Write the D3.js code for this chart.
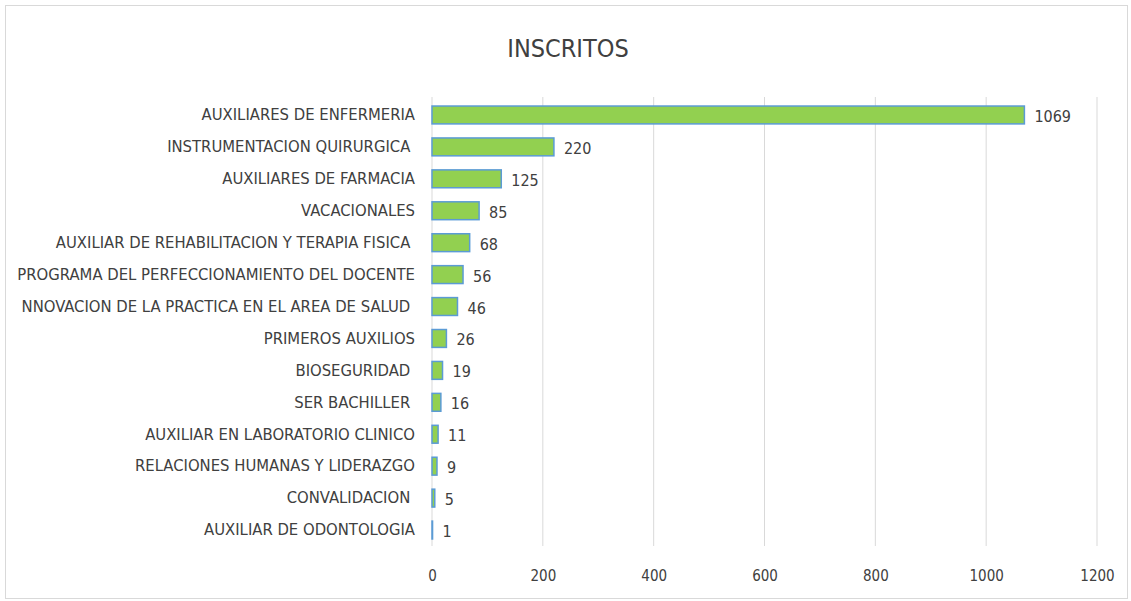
<!DOCTYPE html>
<html>
<head>
<meta charset="utf-8">
<script src="https://cdn.jsdelivr.net/npm/d3@7"></script>
<style>
  body { margin: 0; background: #fff; }
  text { font-family: "DejaVu Sans Condensed", "Liberation Sans Narrow", sans-serif; fill: #404040; }
</style>
</head>
<body>
<svg id="chart" width="1131" height="601"></svg>
<script>
// Data
const categories = [
  'AUXILIARES DE ENFERMERIA',
  'INSTRUMENTACION QUIRURGICA ',
  'AUXILIARES DE FARMACIA',
  'VACACIONALES',
  'AUXILIAR DE REHABILITACION Y TERAPIA FISICA ',
  'PROGRAMA DEL PERFECCIONAMIENTO DEL DOCENTE',
  'NNOVACION DE LA PRACTICA EN EL AREA DE SALUD ',
  'PRIMEROS AUXILIOS',
  'BIOSEGURIDAD ',
  'SER BACHILLER ',
  'AUXILIAR EN LABORATORIO CLINICO',
  'RELACIONES HUMANAS Y LIDERAZGO',
  'CONVALIDACION ',
  'AUXILIAR DE ODONTOLOGIA'
];
const inscritos = [1069, 220, 125, 85, 68, 56, 46, 26, 19, 16, 11, 9, 5, 1];
const xTicks = [0, 200, 400, 600, 800, 1000, 1200];
const title = 'INSCRITOS';

const svg = d3.select('#chart');
const width = 1131;
const height = 601;
const margin = { top: 99, right: 34, bottom: 55, left: 432 };

// chart frame
svg.append('rect')
  .attr('x', 5.5).attr('y', 5.5)
  .attr('width', width - 9).attr('height', height - 8)
  .attr('fill', '#fff')
  .attr('stroke', '#d9d9d9');

// Title
svg.append('text')
  .attr('x', 568).attr('y', 57)
  .attr('text-anchor', 'middle')
  .style('font-size', '25px')
  .text(title);

const x = d3.scaleLinear()
  .domain([0, 1200])
  .range([margin.left, width - margin.right]);

const y = d3.scaleBand()
  .domain(categories)
  .range([margin.top, height - margin.bottom])
  .paddingInner(0.44)
  .paddingOuter(0.22);

// Gridlines
svg.append('g')
  .selectAll('line')
  .data(xTicks)
  .enter()
  .append('line')
  .attr('x1', (d) => x(d)).attr('x2', (d) => x(d))
  .attr('y1', margin.top - 2).attr('y2', height - margin.bottom)
  .attr('stroke', '#d9d9d9')
  .attr('stroke-width', 1);

// Bars
svg.append('g')
  .selectAll('rect')
  .data(categories)
  .enter()
  .append('rect')
  .attr('x', x(0))
  .attr('y', (d) => y(d))
  .attr('width', (d, i) => x(inscritos[i]) - x(0))
  .attr('height', y.bandwidth())
  .attr('fill', '#92d050')
  .attr('stroke', '#5b9bd5')
  .attr('stroke-width', 1.5);

// Value labels
svg.append('g')
  .selectAll('text')
  .data(categories)
  .enter()
  .append('text')
  .attr('x', (d, i) => x(inscritos[i]) + 10)
  .attr('y', (d) => y(d) + y.bandwidth() / 2 + 7)
  .style('font-size', '16px')
  .text((d, i) => inscritos[i]);

// Category labels
const yAxis = d3.axisLeft(y).tickSize(0).tickPadding(17);
const yg = svg.append('g')
  .attr('transform', `translate(${margin.left},0)`)
  .call(yAxis);
yg.select('.domain').remove();
yg.selectAll('text')
  .style('font-size', '16.5px')
  .style('white-space', 'pre')
  .attr('fill', '#404040');

// X axis labels
const xAxis = d3.axisBottom(x)
  .tickValues(xTicks)
  .tickFormat(d3.format('d'))
  .tickSize(0)
  .tickPadding(24);
const xg = svg.append('g')
  .attr('transform', `translate(0,${height - margin.bottom})`)
  .call(xAxis);
xg.select('.domain').remove();
xg.selectAll('text')
  .style('font-size', '15px')
  .attr('fill', '#404040');
</script>
</body>
</html>
